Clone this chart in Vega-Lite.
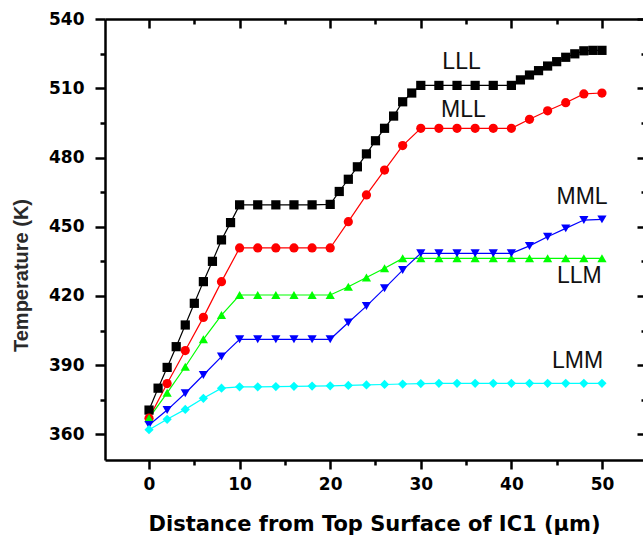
{
  "$schema": "https://vega.github.io/schema/vega-lite/v6.json",
  "width": 538,
  "height": 441,
  "autosize": {"type": "none"},
  "padding": {"left": 105, "top": 19, "right": 0, "bottom": 79},
  "background": "white",
  "config": {"view": {"stroke": null}, "axis": {"grid": false}},
  "datasets": {
    "series": [
      {"s": "LLL", "x": 0, "T": 370.5}, {"s": "LLL", "x": 1, "T": 380}, {"s": "LLL", "x": 2, "T": 389}, {"s": "LLL", "x": 3, "T": 398},
      {"s": "LLL", "x": 4, "T": 407.4}, {"s": "LLL", "x": 5, "T": 416.8}, {"s": "LLL", "x": 6, "T": 426.2}, {"s": "LLL", "x": 7, "T": 435},
      {"s": "LLL", "x": 8, "T": 444.3}, {"s": "LLL", "x": 9, "T": 451.8}, {"s": "LLL", "x": 10, "T": 459.5}, {"s": "LLL", "x": 12, "T": 459.5},
      {"s": "LLL", "x": 14, "T": 459.5}, {"s": "LLL", "x": 16, "T": 459.5}, {"s": "LLL", "x": 18, "T": 459.5}, {"s": "LLL", "x": 20, "T": 459.7},
      {"s": "LLL", "x": 21, "T": 465.3}, {"s": "LLL", "x": 22, "T": 470.6}, {"s": "LLL", "x": 23, "T": 476}, {"s": "LLL", "x": 24, "T": 481.6},
      {"s": "LLL", "x": 25, "T": 487.3}, {"s": "LLL", "x": 26, "T": 492.7}, {"s": "LLL", "x": 27, "T": 498}, {"s": "LLL", "x": 28, "T": 504.2},
      {"s": "LLL", "x": 29, "T": 508}, {"s": "LLL", "x": 30, "T": 511.3}, {"s": "LLL", "x": 32, "T": 511.3}, {"s": "LLL", "x": 34, "T": 511.3},
      {"s": "LLL", "x": 36, "T": 511.3}, {"s": "LLL", "x": 38, "T": 511.3}, {"s": "LLL", "x": 40, "T": 511.3}, {"s": "LLL", "x": 41, "T": 513.7},
      {"s": "LLL", "x": 42, "T": 515.8}, {"s": "LLL", "x": 43, "T": 517.7}, {"s": "LLL", "x": 44, "T": 519.7}, {"s": "LLL", "x": 45, "T": 521.6},
      {"s": "LLL", "x": 46, "T": 523.5}, {"s": "LLL", "x": 47, "T": 525}, {"s": "LLL", "x": 48, "T": 526.3}, {"s": "LLL", "x": 49, "T": 526.5},
      {"s": "LLL", "x": 50, "T": 526.5},
      {"s": "MLL", "x": 0, "T": 367}, {"s": "MLL", "x": 2, "T": 382}, {"s": "MLL", "x": 4, "T": 396.3}, {"s": "MLL", "x": 6, "T": 410.7},
      {"s": "MLL", "x": 8, "T": 426.2}, {"s": "MLL", "x": 10, "T": 440.8}, {"s": "MLL", "x": 12, "T": 440.8}, {"s": "MLL", "x": 14, "T": 440.8},
      {"s": "MLL", "x": 16, "T": 440.8}, {"s": "MLL", "x": 18, "T": 440.8}, {"s": "MLL", "x": 20, "T": 440.8}, {"s": "MLL", "x": 22, "T": 452.2},
      {"s": "MLL", "x": 24, "T": 463.8}, {"s": "MLL", "x": 26, "T": 474.6}, {"s": "MLL", "x": 28, "T": 485.2}, {"s": "MLL", "x": 30, "T": 492.7},
      {"s": "MLL", "x": 32, "T": 492.7}, {"s": "MLL", "x": 34, "T": 492.7}, {"s": "MLL", "x": 36, "T": 492.7}, {"s": "MLL", "x": 38, "T": 492.7},
      {"s": "MLL", "x": 40, "T": 492.7}, {"s": "MLL", "x": 42, "T": 496.6}, {"s": "MLL", "x": 44, "T": 500.3}, {"s": "MLL", "x": 46, "T": 503.8},
      {"s": "MLL", "x": 48, "T": 507.6}, {"s": "MLL", "x": 50, "T": 508},
      {"s": "LLM", "x": 0, "T": 367}, {"s": "LLM", "x": 2, "T": 378}, {"s": "LLM", "x": 4, "T": 389.3}, {"s": "LLM", "x": 6, "T": 401.2},
      {"s": "LLM", "x": 8, "T": 411.7}, {"s": "LLM", "x": 10, "T": 420.4}, {"s": "LLM", "x": 12, "T": 420.4}, {"s": "LLM", "x": 14, "T": 420.4},
      {"s": "LLM", "x": 16, "T": 420.4}, {"s": "LLM", "x": 18, "T": 420.4}, {"s": "LLM", "x": 20, "T": 420.4}, {"s": "LLM", "x": 22, "T": 424},
      {"s": "LLM", "x": 24, "T": 428}, {"s": "LLM", "x": 26, "T": 432}, {"s": "LLM", "x": 28, "T": 436.3}, {"s": "LLM", "x": 30, "T": 436.3},
      {"s": "LLM", "x": 32, "T": 436.3}, {"s": "LLM", "x": 34, "T": 436.3}, {"s": "LLM", "x": 36, "T": 436.3}, {"s": "LLM", "x": 38, "T": 436.3},
      {"s": "LLM", "x": 40, "T": 436.3}, {"s": "LLM", "x": 42, "T": 436.3}, {"s": "LLM", "x": 44, "T": 436.3}, {"s": "LLM", "x": 46, "T": 436.3},
      {"s": "LLM", "x": 48, "T": 436.3}, {"s": "LLM", "x": 50, "T": 436.3},
      {"s": "MML", "x": 0, "T": 364}, {"s": "MML", "x": 2, "T": 370.5}, {"s": "MML", "x": 4, "T": 377.8}, {"s": "MML", "x": 6, "T": 385.7},
      {"s": "MML", "x": 8, "T": 393.7}, {"s": "MML", "x": 10, "T": 401.2}, {"s": "MML", "x": 12, "T": 401.2}, {"s": "MML", "x": 14, "T": 401.2},
      {"s": "MML", "x": 16, "T": 401.2}, {"s": "MML", "x": 18, "T": 401.2}, {"s": "MML", "x": 20, "T": 401.2}, {"s": "MML", "x": 22, "T": 408.5},
      {"s": "MML", "x": 24, "T": 415.6}, {"s": "MML", "x": 26, "T": 423.3}, {"s": "MML", "x": 28, "T": 431.2}, {"s": "MML", "x": 30, "T": 438.5},
      {"s": "MML", "x": 32, "T": 438.5}, {"s": "MML", "x": 34, "T": 438.5}, {"s": "MML", "x": 36, "T": 438.5}, {"s": "MML", "x": 38, "T": 438.5},
      {"s": "MML", "x": 40, "T": 438.5}, {"s": "MML", "x": 42, "T": 441.7}, {"s": "MML", "x": 44, "T": 445.7}, {"s": "MML", "x": 46, "T": 449.3},
      {"s": "MML", "x": 48, "T": 452.9}, {"s": "MML", "x": 50, "T": 453.2},
      {"s": "LMM", "x": 0, "T": 362}, {"s": "LMM", "x": 2, "T": 366.5}, {"s": "LMM", "x": 4, "T": 370.8}, {"s": "LMM", "x": 6, "T": 375.6},
      {"s": "LMM", "x": 8, "T": 380}, {"s": "LMM", "x": 10, "T": 380.6}, {"s": "LMM", "x": 12, "T": 380.6}, {"s": "LMM", "x": 14, "T": 380.7},
      {"s": "LMM", "x": 16, "T": 380.8}, {"s": "LMM", "x": 18, "T": 380.9}, {"s": "LMM", "x": 20, "T": 381}, {"s": "LMM", "x": 22, "T": 381.2},
      {"s": "LMM", "x": 24, "T": 381.4}, {"s": "LMM", "x": 26, "T": 381.6}, {"s": "LMM", "x": 28, "T": 381.8}, {"s": "LMM", "x": 30, "T": 382},
      {"s": "LMM", "x": 32, "T": 382.1}, {"s": "LMM", "x": 34, "T": 382.1}, {"s": "LMM", "x": 36, "T": 382.1}, {"s": "LMM", "x": 38, "T": 382.1},
      {"s": "LMM", "x": 40, "T": 382.1}, {"s": "LMM", "x": 42, "T": 382.1}, {"s": "LMM", "x": 44, "T": 382.1}, {"s": "LMM", "x": 46, "T": 382.1},
      {"s": "LMM", "x": 48, "T": 382.1}, {"s": "LMM", "x": 50, "T": 382.1}
    ],
    "labels": [
      {"t": "LLL", "x": 34.5, "T": 521.6},
      {"t": "MLL", "x": 34.7, "T": 500.6},
      {"t": "MML", "x": 47.8, "T": 463.1},
      {"t": "LLM", "x": 47.5, "T": 428.6},
      {"t": "LMM", "x": 47.3, "T": 391.8}
    ]
  },
  "resolve": {"axis": {"x": "independent", "y": "independent"}},
  "layer": [
    {
      "data": {"name": "series"},
      "mark": {"type": "line", "strokeWidth": 1.2, "clip": true},
      "encoding": {
        "x": {
          "field": "x", "type": "quantitative",
          "scale": {"domain": [-4.86, 54.53], "nice": false, "zero": false},
          "axis": {
            "orient": "bottom",
            "values": [0, 5, 10, 15, 20, 25, 30, 35, 40, 45, 50],
            "labelExpr": "datum.value % 10 === 0 ? datum.label : ''",
            "tickSize": {"condition": {"test": "datum.value % 10 === 0", "value": 9}, "value": 5},
            "tickWidth": 2.5, "tickColor": "black",
            "domainColor": "black", "domainWidth": 2.5,
            "labelFont": "DejaVu Sans", "labelFontWeight": "bold", "labelFontSize": 17, "labelColor": "black",
            "labelPadding": 7, "labelFlush": false, "labelOverlap": false,
            "title": "Distance from Top Surface of IC1 (µm)",
            "titleFont": "DejaVu Sans", "titleFontSize": 21, "titleFontWeight": "bold", "titleColor": "black",
            "titleY": 70, "titleBaseline": "alphabetic"
          }
        },
        "y": {
          "field": "T", "type": "quantitative",
          "scale": {"domain": [348.85, 540.1], "nice": false, "zero": false},
          "axis": {
            "orient": "left",
            "values": [360, 375, 390, 405, 420, 435, 450, 465, 480, 495, 510, 525, 540],
            "labelExpr": "datum.value % 30 === 0 ? datum.label : ''",
            "tickSize": {"condition": {"test": "datum.value % 30 === 0", "value": 10}, "value": 5},
            "tickWidth": 2.5, "tickColor": "black",
            "domainColor": "black", "domainWidth": 2.5,
            "labelFont": "DejaVu Sans", "labelFontWeight": "bold", "labelFontSize": 17, "labelColor": "black",
            "labelPadding": 11, "labelFlush": false, "labelOverlap": false,
            "title": "Temperature (K)",
            "titleFont": "Liberation Sans", "titleFontSize": 20, "titleFontWeight": "bold", "titleColor": "#2a2a2a",
            "titleX": -78, "titleY": 256, "titleAngle": -90, "titleBaseline": "alphabetic", "titleAlign": "center"
          }
        },
        "color": {
          "field": "s", "type": "nominal",
          "scale": {"domain": ["LLL", "MLL", "LLM", "MML", "LMM"], "range": ["#000000", "#ff0000", "#00ff00", "#0000ff", "#00ffff"]},
          "legend": null
        }
      }
    },
    {
      "data": {"name": "series"},
      "mark": {"type": "point", "filled": true, "opacity": 1, "size": 85, "strokeWidth": 0, "clip": true},
      "encoding": {
        "x": {
          "field": "x", "type": "quantitative",
          "axis": {
            "orient": "top",
            "values": [0, 5, 10, 15, 20, 25, 30, 35, 40, 45, 50],
            "labels": false,
            "tickSize": {"condition": {"test": "datum.value % 10 === 0", "value": -9}, "value": -5},
            "tickWidth": 2.5, "tickColor": "black",
            "domainColor": "black", "domainWidth": 2.5,
            "title": null
          }
        },
        "y": {
          "field": "T", "type": "quantitative",
          "axis": {
            "orient": "right",
            "values": [360, 375, 390, 405, 420, 435, 450, 465, 480, 495, 510, 525, 540],
            "labels": false, "domain": false, "offset": 3,
            "tickSize": {"condition": {"test": "datum.value % 30 === 0", "value": -9}, "value": -5},
            "tickWidth": 2.5, "tickColor": "black",
            "title": null
          }
        },
        "color": {"field": "s", "type": "nominal", "legend": null},
        "shape": {
          "field": "s", "type": "nominal",
          "scale": {"domain": ["LLL", "MLL", "LLM", "MML", "LMM"], "range": ["square", "circle", "triangle-up", "triangle-down", "diamond"]},
          "legend": null
        }
      }
    },
    {
      "data": {"name": "labels"},
      "mark": {"type": "text", "font": "Liberation Sans", "fontSize": 23, "color": "#111111", "align": "center", "baseline": "middle"},
      "encoding": {
        "x": {"field": "x", "type": "quantitative", "axis": null},
        "y": {"field": "T", "type": "quantitative", "axis": null},
        "text": {"field": "t", "type": "nominal"}
      }
    }
  ]
}
